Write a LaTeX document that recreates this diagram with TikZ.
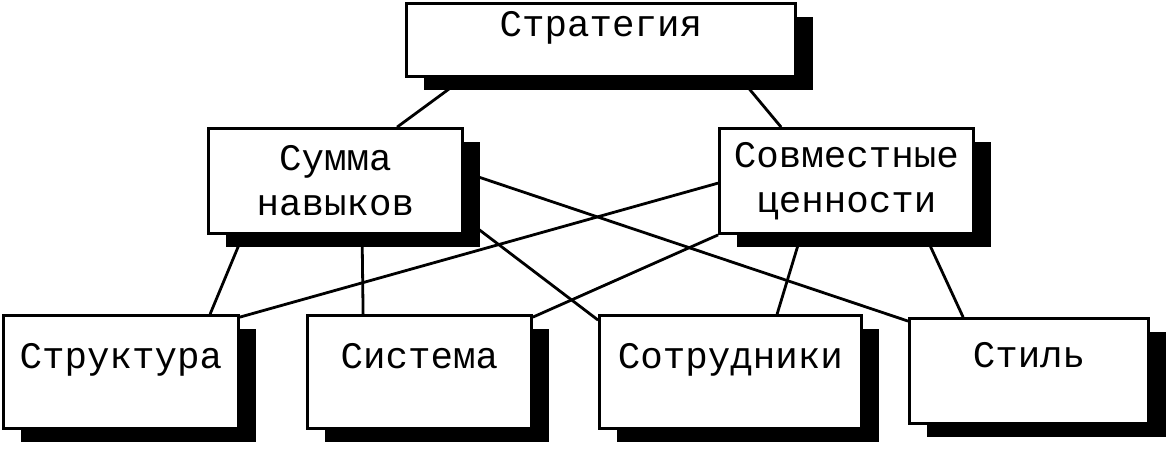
\documentclass[tikz,border=0pt]{standalone}
\usepackage{fontspec}
\newfontfamily\boxfont{Liberation Mono}
\usetikzlibrary{shadows}

\begin{document}
\begin{tikzpicture}[x=1pt, y=-1pt, line width=2.8pt,
  shadowbox/.style={draw, fill=white, rectangle, inner sep=3pt,
    drop shadow={shadow xshift=17pt, shadow yshift=-13pt, fill=black, opacity=1},
    font=\boxfont\fontsize{37.5}{45}\selectfont},
  oneline/.style={shadowbox, text height=22pt, text depth=30pt},
  twoline/.style={shadowbox, align=center, minimum width=254pt, minimum height=105pt}]
\useasboundingbox (0,0) rectangle (1168,448);

\node[oneline, minimum width=389pt, minimum height=73pt] (strat) at (601,40) {Стратегия};
\node[twoline] (skills) at (335.5,181) {Сумма\\навыков};
\node[twoline] (values) at (846.5,181) {Совместные\\ценности};

\node[oneline, minimum width=235pt, minimum height=113pt] (structure) at (121,372) {Структура};
\node[oneline, minimum width=224pt, minimum height=113pt] (systems) at (419.5,372) {Система};
\node[oneline, minimum width=262pt, minimum height=113pt] (staff) at (730.5,372) {Сотрудники};
\node[oneline, minimum width=239pt, minimum height=105pt] (styl) at (1029,371) {Стиль};

\draw ([xshift=59pt]strat.south west) -- ([xshift=190pt]skills.north west);
\draw ([xshift=335pt]strat.south west) -- ([xshift=63pt]values.north west);

\draw ([xshift=36pt]skills.south west) -- ([xshift=208pt]structure.north west);
\draw ([xshift=155pt]skills.south west) -- ([xshift=57pt]systems.north west);
\draw ([yshift=-45pt]skills.north east) -- ([yshift=-4pt]styl.north west);
\draw ([yshift=-91pt]skills.north east) -- ([yshift=-6pt]staff.north west);

\draw ([yshift=-56pt]values.north west) -- ([yshift=-3pt]structure.north east);
\draw (values.south west) -- ([yshift=-3pt]systems.north east);
\draw ([xshift=83pt]values.south west) -- ([xshift=179pt]staff.north west);
\draw ([xshift=207pt]values.south west) -- ([xshift=55pt]styl.north west);

\end{tikzpicture}
\end{document}
